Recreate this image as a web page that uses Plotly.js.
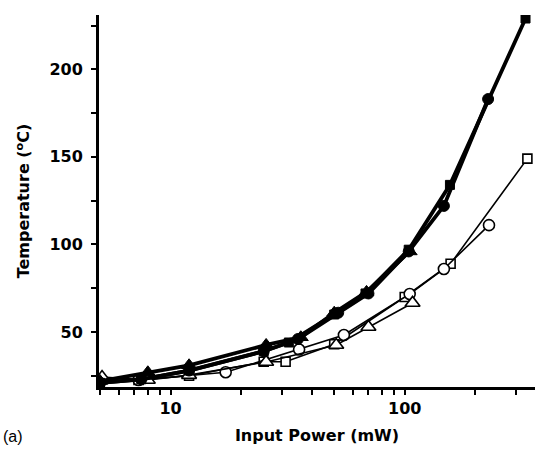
<!DOCTYPE html>
<html>
<head>
<meta charset="utf-8">
<script src="https://cdn.plot.ly/plotly-3.0.1.min.js"></script>
<style>html,body{margin:0;padding:0;background:#fff;}#chart{width:538px;height:452px;}</style>
</head>
<body>
<div id="chart"></div>
<script>
// Filled (thick line) series
const sqFilledX = [5, 7.5, 12, 25, 32, 50, 68, 104, 156, 328];
const sqFilledY = [21, 23, 28, 39, 44, 60, 72, 97, 134, 229];
const circFilledX = [5, 7.5, 12, 25, 35, 52, 70, 104, 147, 227];
const circFilledY = [21, 23, 28, 39, 46, 61, 72, 96, 122, 183];
const triFilledX = [5, 8, 12, 25.6, 36, 50, 68.7, 105];
const triFilledY = [22, 27, 31, 42.6, 47, 61, 72.9, 96];
// Open (thin line) series
const sqOpenX = [5, 7.3, 12, 25, 31, 50, 100, 157, 334];
const sqOpenY = [22, 22.6, 25, 33, 33, 43, 70, 89, 149];
const circOpenX = [5, 7.3, 17.2, 35.4, 55, 105, 147, 229];
const circOpenY = [22, 22.6, 27, 40, 48.3, 71.7, 86, 111];
const triOpenX = [5.1, 8, 12, 25.6, 51, 70, 108];
const triOpenY = [24.3, 22.6, 25.4, 32.9, 42.6, 52.9, 66.6];

const xTickVals = [5,6,7,8,9,10,20,30,40,50,60,70,80,90,100,200,300];
const xTickText = ['','','','','','10','','','','','','','','','100','',''];
const yTickVals = [25,50,75,100,125,150,175,200,225];
const yTickText = ['','50','','100','','150','','200',''];

function filled(x, y, sym, size) {
  return {x: x, y: y, type: 'scatter', mode: 'lines+markers',
    line: {color: '#000', width: 3.8},
    marker: {symbol: sym, size: size, color: '#000', line: {color: '#000', width: 1}}};
}
function open(x, y, sym, size) {
  return {x: x, y: y, type: 'scatter', mode: 'lines+markers',
    line: {color: '#000', width: 1.6},
    marker: {symbol: sym, size: size, color: '#fff', line: {color: '#000', width: 1.6}}};
}

const data = [
  open(sqOpenX, sqOpenY, 'square', 9),
  open(circOpenX, circOpenY, 'circle', 11),
  open(triOpenX, triOpenY, 'triangle-up', 13),
  filled(triFilledX, triFilledY, 'triangle-up', 13),
  filled(circFilledX, circFilledY, 'circle', 11),
  filled(sqFilledX, sqFilledY, 'square', 9)
];

const fontB = {family: 'DejaVu Sans, sans-serif', size: 16, color: '#000', weight: 'bold'};

const layout = {
  width: 538, height: 452,
  margin: {l: 99, r: 3, t: 15, b: 65},
  paper_bgcolor: '#fff', plot_bgcolor: '#fff',
  showlegend: false,
  xaxis: {
    type: 'log', range: [Math.log10(4.95), Math.log10(360)],
    tickmode: 'array', tickvals: xTickVals, ticktext: xTickText,
    ticks: 'outside', ticklen: 5, tickwidth: 2, tickcolor: '#000',
    showline: true, linewidth: 3, linecolor: '#000', showgrid: false, zeroline: false,
    tickfont: fontB,
    title: {text: 'Input Power (mW)', font: fontB, standoff: 13}
  },
  yaxis: {
    range: [18.6, 231],
    tickmode: 'array', tickvals: yTickVals, ticktext: yTickText,
    ticks: 'outside', ticklen: 5, tickwidth: 2, tickcolor: '#000',
    ticklabelstandoff: 5,
    showline: true, linewidth: 3, linecolor: '#000', showgrid: false, zeroline: false,
    tickfont: fontB,
    title: {text: 'Temperature (<sup>o</sup>C)', font: fontB, standoff: 16}
  },
  annotations: [{
    text: '(a)', xref: 'paper', yref: 'paper', x: -0.225, y: -0.134,
    xanchor: 'left', yanchor: 'middle', showarrow: false,
    font: {family: 'Liberation Sans, Arial, sans-serif', size: 16, color: '#000'}
  }]
};

Plotly.newPlot('chart', data, layout, {displayModeBar: false, staticPlot: true});
</script>
</body>
</html>
